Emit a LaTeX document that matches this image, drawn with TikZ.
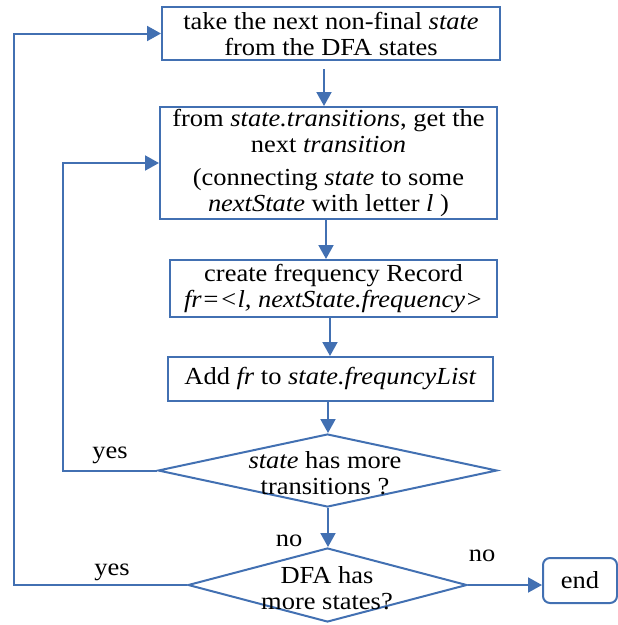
\documentclass[tikz,border=0pt]{standalone}
\usepackage{fontspec}
\setmainfont{Liberation Serif}[FakeStretch=1.08]
\usetikzlibrary{arrows.meta,shapes.geometric}
\definecolor{flowblue}{RGB}{66,112,178}
\begin{document}
\begin{tikzpicture}[x=1pt,y=-1pt,
  every node/.style={font=\fontsize{24.5}{26}\selectfont, text=black},
  procbox/.style={draw=flowblue, line width=2pt, rectangle, inner sep=0pt, align=center},
  decision/.style={draw=flowblue, line width=2pt, diamond, inner sep=0pt},
  endbox/.style={draw=flowblue, line width=2pt, rectangle, rounded corners=7pt, inner sep=0pt},
  arr/.style={draw=flowblue, line width=2pt, -{Triangle[width=15pt,length=14pt]}},
  lbl/.style={inner sep=0pt}]
\useasboundingbox (0,0) rectangle (618,625);

% process boxes
\node[procbox, minimum width=338pt, minimum height=53pt] (b1) at (331,33.5)
  {take the next non-final \textit{state}\\ from the DFA states};
\node[procbox, minimum width=337pt, minimum height=112pt] (b2) at (328.5,163)
  {from \textit{state.transitions}, get the\\ next \textit{transition}\\[7pt]
   (connecting \textit{state} to some\\ \textit{nextState} with letter \textit{l} )};
\node[procbox, minimum width=327pt, minimum height=57pt] (b3) at (333.5,288.5)
  {create frequency Record\\ \textit{fr=<l, nextState.frequency>}};
\node[procbox, minimum width=325pt, minimum height=44pt] (b4) at (330.5,379)
  {Add \textit{fr} to \textit{state.frequncyList}};

% decisions
\node[decision, minimum width=339pt, minimum height=73pt] (d1) at (327.5,470.5) {};
\node[lbl, align=center] (d1t) at (325,473) {\textit{state} has more\\ transitions ?};
\node[decision, minimum width=279pt, minimum height=74pt] (d2) at (327.5,585) {};
\node[lbl, align=center] (d2t) at (327,588) {DFA has\\ more states?};

% terminal
\node[endbox, minimum width=74pt, minimum height=45pt] (e) at (580,580.5) {end};

% main flow
\draw[arr, shorten <=8pt] (b1.south -| 324,0) -- (b2.north -| 324,0);
\draw[arr] (b2.south -| 326,0) -- (b3.north -| 326,0);
\draw[arr] (b3.south -| 330,0) -- (b4.north -| 330,0);
\draw[arr] (b4.south -| 328,0) -- (d1.north -| 328,0);
\draw[arr] (d1.south -| 328,0) -- (d2.north -| 328,0);
\draw[arr] (d2.east) -- (d2.east -| e.west);

% loops back
\coordinate (c1) at (63,0);
\coordinate (c2) at (14,0);
\draw[arr] (d1.west) -- (d1.west -| c1) -- (b2.west -| c1) -- (b2.west);
\draw[arr] (d2.west) -- (d2.west -| c2) -- (b1.west -| c2) -- (b1.west);

% branch labels
\node[lbl] (y1) at (110,455) {yes};
\node[lbl] (y2) at (112,572) {yes};
\node[lbl] (n1) at (289,541) {no};
\node[lbl] (n2) at (482,556) {no};
\end{tikzpicture}
\end{document}
